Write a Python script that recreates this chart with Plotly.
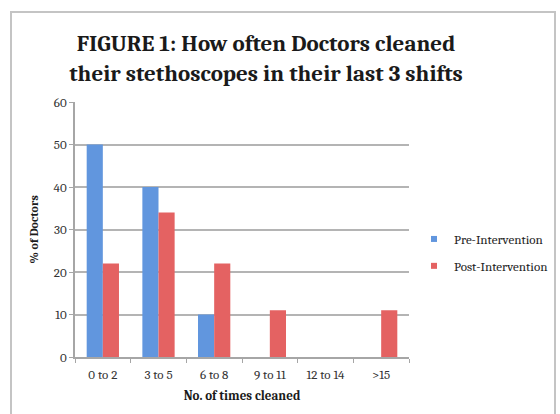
import plotly.graph_objects as go

categories = ["0 to 2", "3 to 5", "6 to 8", "9 to 11", "12 to 14", ">15"]
pre_values = [50, 40, 10, 0, 0, 0]
post_values = [22, 34, 22, 11, 0, 11]
y_ticks = [0, 10, 20, 30, 40, 50, 60]

SERIF = "Cambria, 'Liberation Serif', 'DejaVu Serif', serif"
BLUE = "#6196de"
RED = "#e46262"

fig = go.Figure()
fig.add_trace(go.Bar(name="Pre-Intervention", x=categories, y=pre_values, showlegend=False,
                     marker=dict(color=BLUE, line=dict(width=0))))
fig.add_trace(go.Bar(name="Post-Intervention", x=categories, y=post_values, showlegend=False,
                     marker=dict(color=RED, line=dict(width=0))))
# legend entries with small square keys
fig.add_trace(go.Scatter(name="Pre-Intervention", x=[None], y=[None], mode="markers", legendgroup="pre",
                         marker=dict(symbol="square", size=6, color=BLUE)))
fig.add_trace(go.Scatter(name="Post-Intervention", x=[None], y=[None], mode="markers", legendgroup="post",
                         marker=dict(symbol="square", size=6, color=RED)))

L, R, T, B = 75, 151, 102, 57
pw, ph = 560 - L - R, 414 - T - B

def px(x):
    return (x - L) / pw

def py(y):
    return (414 - B - y) / ph

fig.add_shape(type="rect", xref="paper", yref="paper",
              x0=px(11), x1=px(555), y0=py(430), y1=py(12),
              line=dict(color="#c4c4c4", width=2), fillcolor="rgba(0,0,0,0)", layer="below")

fig.update_layout(
    width=560, height=414,
    margin=dict(l=L, r=R, t=T, b=B, autoexpand=False),
    paper_bgcolor="white", plot_bgcolor="white",
    barmode="group", bargap=0.42, bargroupgap=0,
    title=dict(text="<b>FIGURE 1: How often Doctors cleaned<br>their stethoscopes in their last 3 shifts</b>",
               x=266 / 560, xref="container", xanchor="center", y=1 - 51 / 414, yref="container", yanchor="middle",
               font=dict(family=SERIF, size=23, color="#1a1a1a")),
    font=dict(family=SERIF, color="#333333"),
    showlegend=True,
    legend=dict(x=px(414), y=py(224), xanchor="left", yanchor="top",
                font=dict(family=SERIF, size=13, color="#222222"),
                itemwidth=30, tracegroupgap=7, bgcolor="rgba(0,0,0,0)"),
    xaxis=dict(showline=True, linecolor="#a6a6a6", linewidth=1.5,
               ticks="outside", tickson="boundaries", ticklen=4, tickcolor="#a6a6a6",
               ticklabelstandoff=5,
               tickfont=dict(family=SERIF, size=13, color="#333333"),
               title=dict(text="<b>No. of times cleaned</b>", standoff=10,
                          font=dict(family=SERIF, size=13, color="#1a1a1a"))),
    yaxis=dict(range=[0, 60], tickvals=y_ticks, showline=True, linecolor="#a6a6a6", linewidth=1.5,
               ticks="outside", ticklen=4, tickcolor="#a6a6a6",
               showgrid=True, gridcolor="#b4b4b4", gridwidth=1.5, zeroline=False,
               tickfont=dict(family=SERIF, size=13, color="#333333"),
               title=dict(text="<b>% of Doctors</b>", standoff=12,
                          font=dict(family=SERIF, size=12, color="#1a1a1a"))),
)

fig.write_html("out.html")
